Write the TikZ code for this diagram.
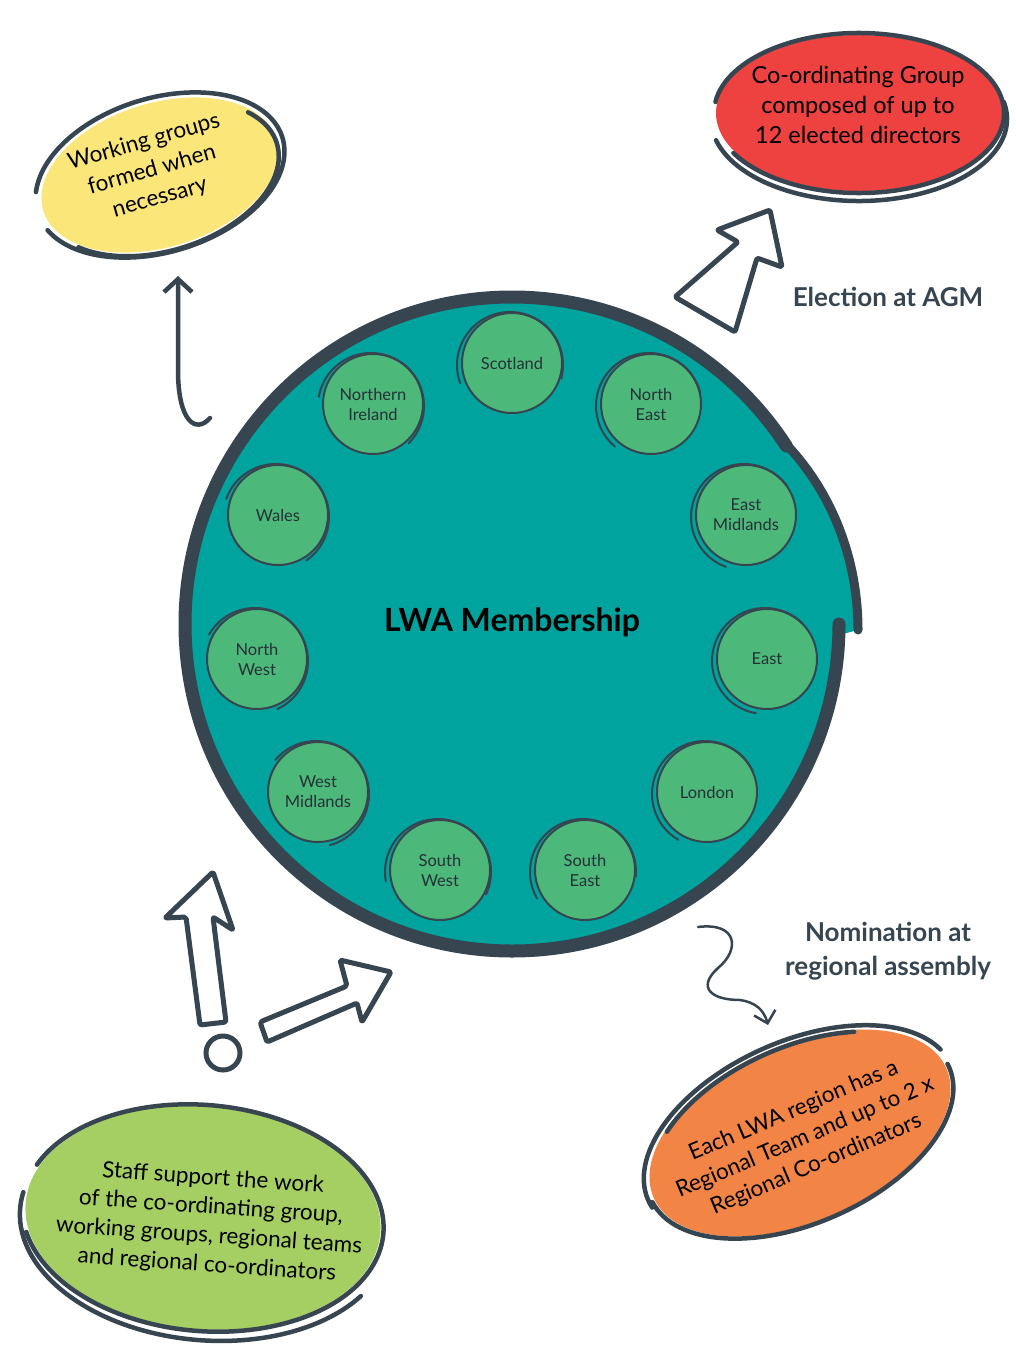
\documentclass[tikz,border=0pt]{standalone}
\usepackage{fontspec}
\setmainfont{Lato}
\usetikzlibrary{shapes.geometric,arrows.meta}
\definecolor{ink}{HTML}{36454F}
\definecolor{lwateal}{HTML}{00A39D}
\definecolor{regiongreen}{HTML}{4CB97B}
\definecolor{wgyellow}{HTML}{FBE67A}
\definecolor{cgred}{HTML}{EE4241}
\definecolor{rtorange}{HTML}{F28446}
\definecolor{staffgreen}{HTML}{A5CF62}
\tikzset{sketch/.style={draw=ink, line width=4.5pt, line cap=round},
  thinsketch/.style={draw=ink, line width=2pt, line cap=round},
  region/.style={circle, fill=regiongreen, minimum size=100pt, inner sep=0pt, align=center, text=ink!70!black, font=\fontsize{16.5}{20}\selectfont},
  blob/.style={ellipse, inner sep=0pt, transform shape},
  blobtext/.style={align=center, text=black, inner sep=0pt, font=\fontsize{22.5}{29}\selectfont},
  heading/.style={align=center, text=ink, font=\fontsize{26}{34}\selectfont\bfseries},
  hollow/.style={draw=ink, fill=white, line width=5pt, line join=round, rounded corners=2pt},
  barb/.style={draw=ink, line width=4.5pt, line cap=round, -{Straight Barb[length=13pt, width=28pt]}},
  thinbarb/.style={draw=ink, line width=2.5pt, line cap=round, -{Straight Barb[length=11pt, width=22pt]}}}

\begin{document}
\begin{tikzpicture}[x=1pt, y=-1pt]
   \fill[white] (0,0) rectangle (1016,1346);
   \useasboundingbox (0,0) rectangle (1016,1346);
   \node[circle, fill=lwateal, minimum size=662pt, inner sep=0pt] (member) at (513,624) {};
   \fill[lwateal] (786,444) .. controls (836,497) and (858,565) .. (858,630) -- (820,640) -- (760,450) -- cycle;
   \draw[ink, line width=13pt, line cap=round] (512,624) ++(0:327) arc[start angle=0, end angle=327, radius=327];
   \draw[ink, line width=9pt, line cap=round] (786,444) .. controls (836,497) and (858,565) .. (858,630);
   \node[font=\fontsize{32}{38}\selectfont\bfseries] (title) at (512,622) {LWA Membership};
   \foreach \n/\x/\y/\t/\a in {scot/512/363/Scotland/160, ni/373/404/{Northern\\Ireland}/190,
      ne/651/404/{North\\East}/130, wales/278/515/Wales/200, em/746/515/{East\\Midlands}/110,
      nw/257/659/{North\\West}/210, east/767/659/East/100, wm/318/792/{West\\Midlands}/220,
      london/707/792/London/120, sw/440/870/{South\\West}/170, se/585/870/{South\\East}/150} {
     \node[region] (\n) at (\x,\y) {\t};
     \draw[thinsketch] (\n.center) circle (50);
     \draw[thinsketch] ([shift={(-2,2)}]\n.center) ++(\a:53) arc[start angle=\a, delta angle=215, radius=53];
   }
   \begin{scope}[shift={(160,175)}, rotate=17]
    \node[blob, fill=wgyellow, minimum width=244pt, minimum height=144pt] (wg) at (0,0) {};
    \draw[sketch] (-195:128 and 77) arc[start angle=-195, end angle=-525, x radius=128, y radius=77];
    \draw[sketch] (0,4) ++(-215:121 and 72) arc[start angle=-215, end angle=-392, x radius=121, y radius=72];
   \end{scope}
   \node[blobtext, rotate=16] (wgtext) at (152,170) {Working groups\\formed when\\necessary};
   \begin{scope}[shift={(859,113)}]
    \node[blob, fill=cgred, minimum width=286pt, minimum height=156pt] (cg) at (0,0) {};
    \draw[sketch] (-172:145 and 80) arc[start angle=-172, end angle=150, x radius=145, y radius=80];
    \draw[sketch] (0,6) ++(-195:148 and 82) arc[start angle=-195, end angle=-372, x radius=148, y radius=82];
   \end{scope}
   \node[blobtext, font=\fontsize{23.5}{30}\selectfont] (cgtext) at (858,105) {Co-ordinating Group\\composed of up to\\12 elected directors};
   \begin{scope}[shift={(800,1133)}, rotate=24]
    \node[blob, fill=rtorange, minimum width=320pt, minimum height=176pt] (rt) at (0,0) {};
    \draw[sketch] (-185:166 and 92) arc[start angle=-185, end angle=-12, x radius=166, y radius=92];
    \draw[sketch] (-2:163 and 90) arc[start angle=-2, end angle=178, x radius=163, y radius=90];
    \draw[sketch] (-140:158 and 86) arc[start angle=-140, end angle=-55, x radius=158, y radius=86];
   \end{scope}
   \node[blobtext, rotate=23] (rttext) at (805,1138) {Each LWA region has a\\Regional Team and up to 2 x\\Regional Co-ordinators};
   \begin{scope}[shift={(203,1218)}, rotate=-5]
    \node[blob, fill=staffgreen, minimum width=356pt, minimum height=222pt] (staff) at (0,0) {};
    \draw[sketch] (-160:181 and 113) arc[start angle=-160, end angle=165, x radius=181, y radius=113];
    \draw[sketch] (3,6) ++(-172:186 and 116) arc[start angle=-172, end angle=-330, x radius=186, y radius=116];
   \end{scope}
   \node[blobtext, rotate=-4] (stafftext) at (210,1222) {Staff support the work\\of the co-ordinating group,\\working groups, regional teams\\and regional co-ordinators};
   \node[heading] (elect) at (888,297) {Election at AGM};
   \node[heading] (nom) at (888,951) {Nomination at\\regional assembly};
   \draw[hollow] (770,210) -- (717,230) -- (738,242) -- (675,297) -- (735,332) -- (757,258) -- (782,267) -- cycle;
   \draw[hollow] (213,872) -- (165,918) -- (186,917) -- (200,1025) -- (226,1022) -- (213,917) -- (233,930) -- cycle;
   \draw[hollow] (260,1022) -- (347,986) -- (340,960) -- (391,972) -- (362,1022) -- (357,1003) -- (267,1042) -- cycle;
   \node[circle, draw=ink, line width=5pt, minimum size=34pt, inner sep=0pt] (dot) at (223,1053) {};
   \coordinate (wgtail) at (210,418);
   \coordinate (wgtip) at (178,276);
   \draw[barb] (wgtail) .. controls (196,434) and (178,422) .. (178,370) -- (wgtip);
   \coordinate (nomtail) at (698,927);
   \coordinate (nomtip) at (768,1025);
   \draw[thinbarb] (nomtail) .. controls (738,922) and (740,950) .. (718,968)
     .. controls (696,988) and (712,1000) .. (740,1000)
     .. controls (755,1002) and (764,1010) .. (nomtip);
  \end{tikzpicture}
\end{document}
